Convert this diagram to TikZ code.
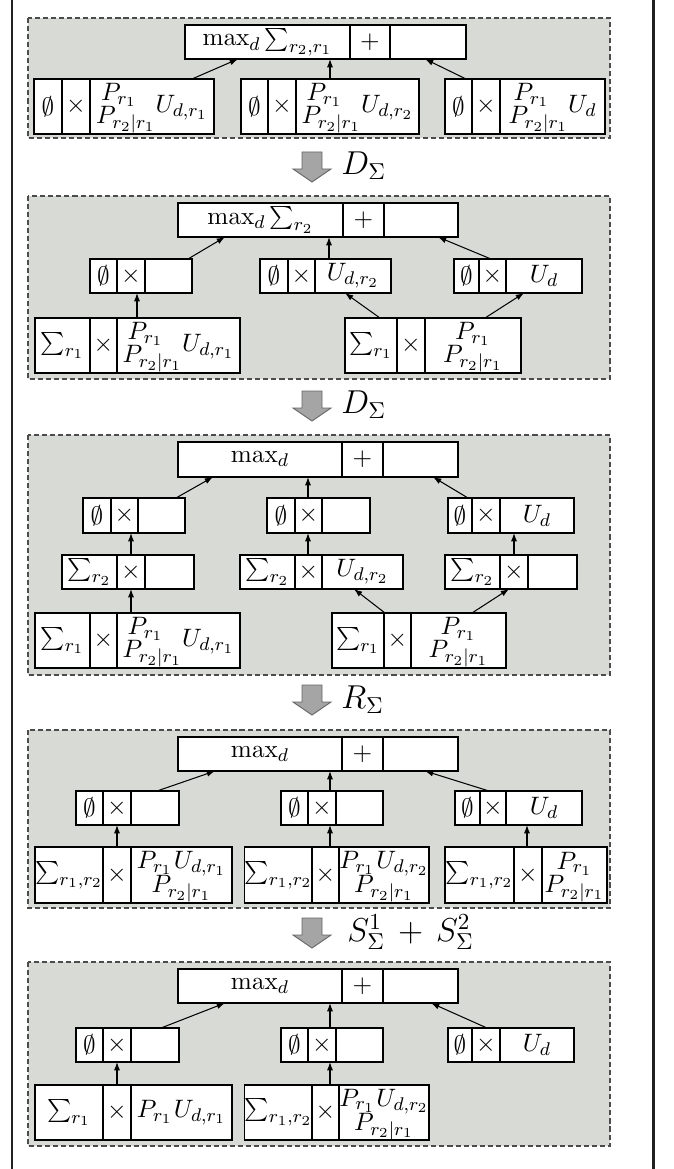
\documentclass[tikz,border=0pt]{standalone}
\usetikzlibrary{arrows.meta,calc}
\DeclareMathSizes{10.95}{10.95}{8}{6}
\definecolor{panelgray}{RGB}{216,218,213}
\definecolor{arrowgray}{RGB}{165,165,165}
\newcommand\rowy[2]{\def\ya{#1}\def\yb{#2}}
\newcommand\tbox[8]{%
  \node[cell,minimum width={(#3-#2)*0.435pt},minimum height={(\yb-\ya)*0.435pt}] (#1a) at ({(#2+#3)/2},{(\ya+\yb)/2}) {#6};
  \node[cell,minimum width={(#4-#3)*0.435pt},minimum height={(\yb-\ya)*0.435pt}] (#1b) at ({(#3+#4)/2},{(\ya+\yb)/2}) {#7};
  \node[cell,minimum width={(#5-#4)*0.435pt},minimum height={(\yb-\ya)*0.435pt}] (#1c) at ({(#4+#5)/2},{(\ya+\yb)/2}) {#8};
}
\newcommand\link[4]{\draw[conn] (#1.north -| #2,0) -- (#3.south -| #4,0);}
\newcommand\barrow[1]{\draw[blockarrow] (302,#1) -- (322,#1) -- (322,#1+17) -- (331,#1+17) -- (312,#1+30) -- (293,#1+17) -- (302,#1+17) -- cycle;}
\newcommand\mPP{\begin{array}{@{}l@{}}\hspace{2.2pt}P_{r_1}\\[-3pt]P_{r_2|r_1}\end{array}}
\newcommand\mPPc{\begin{array}{@{}c@{}}P_{r_1}\\[-3pt]P_{r_2|r_1}\end{array}}
\newcommand\mPU[1]{\begin{array}{@{}c@{}}P_{r_1}\mkern1mu U_{d,#1}\\[-2.5pt]P_{r_2|r_1}\end{array}}
\begin{document}
\begin{tikzpicture}[x=0.435pt,y=-0.435pt,
  cell/.style={draw=black,line width=0.45pt,fill=white,inner sep=0pt,outer sep=0pt,anchor=center,font=\fontsize{10.95}{13}\selectfont},
  conn/.style={-{Latex[length=3.6pt,width=2.6pt]},line width=0.45pt},
  panel/.style={fill=panelgray,draw=black!70,dash pattern=on 2.2pt off 1.3pt,line width=0.5pt},
  blockarrow/.style={fill=arrowgray,draw=black!60,line width=0.4pt},
  frameline/.style={line width=1.1pt,draw=black!87},
  lbl/.style={anchor=west,inner sep=0pt,font=\Large}]
\useasboundingbox (0,0) rectangle (674,1169);
\draw[frameline] (12,0) -- (12,1169);
\draw[frameline] (653.5,0) -- (653.5,1169);
% ---------------- panel 1
\draw[panel] (28,18) rectangle (610,138);
\rowy{25}{59}
\tbox{p1t}{185}{350}{390}{466}{$\max_d\sum_{r_2,r_1}$}{$+$}{}
\rowy{79}{134}
\tbox{p1a}{34}{62}{90}{214}{$\emptyset$}{$\times$}{$\mPP U_{d,r_1}$}
\tbox{p1b}{241}{268}{296}{419}{$\emptyset$}{$\times$}{$\mPP U_{d,r_2}$}
\tbox{p1c}{445}{472}{500}{605}{$\emptyset$}{$\times$}{$\mPP U_d$}
\link{p1ac}{192}{p1ta}{238}
\link{p1bc}{330}{p1ta}{330}
\link{p1ca}{466}{p1tc}{425}
\barrow{152}
\node[lbl] (l1) at (341,166) {$D_\Sigma$};
% ---------------- panel 2
\draw[panel] (28,196) rectangle (610,379);
\rowy{203}{237}
\tbox{p2t}{178}{343}{384}{458}{$\max_d\sum_{r_2}$}{$+$}{}
\rowy{259}{293}
\tbox{p2a}{90}{117}{145}{192}{$\emptyset$}{$\times$}{}
\tbox{p2b}{260}{288}{315}{391}{$\emptyset$}{$\times$}{$U_{d,r_2}$}
\tbox{p2c}{454}{479}{506}{582}{$\emptyset$}{$\times$}{$U_d$}
\rowy{318}{373}
\tbox{p2d}{35}{90}{117}{240}{$\sum_{r_1}$}{$\times$}{$\mPP U_{d,r_1}$}
\tbox{p2e}{345}{397}{425}{521}{$\sum_{r_1}$}{$\times$}{$\mPPc$}
\link{p2ac}{188}{p2ta}{225}
\link{p2bc}{329}{p2ta}{329}
\link{p2cb}{491}{p2tc}{438}
\link{p2dc}{137}{p2ab}{137}
\link{p2ea}{380}{p2bc}{345}
\link{p2ec}{485}{p2cc}{524}
\barrow{391}
\node[lbl] (l2) at (341,405) {$D_\Sigma$};
% ---------------- panel 3
\draw[panel] (28,435) rectangle (610,675);
\rowy{442}{477}
\tbox{p3t}{178}{342}{383}{458}{$\max_d$}{$+$}{}
\rowy{498}{533}
\tbox{p3a}{83}{111}{138}{185}{$\emptyset$}{$\times$}{}
\tbox{p3b}{267}{295}{322}{370}{$\emptyset$}{$\times$}{}
\tbox{p3c}{448}{472}{500}{574}{$\emptyset$}{$\times$}{$U_d$}
\rowy{555}{589}
\tbox{p3e}{62}{117}{145}{194}{$\sum_{r_2}$}{$\times$}{}
\tbox{p3f}{240}{295}{322}{403}{$\sum_{r_2}$}{$\times$}{$U_{d,r_2}$}
\tbox{p3g}{445}{500}{528}{577}{$\sum_{r_2}$}{$\times$}{}
\rowy{613}{668}
\tbox{p3h}{35}{90}{117}{240}{$\sum_{r_1}$}{$\times$}{$\mPP U_{d,r_1}$}
\tbox{p3i}{332}{384}{411}{506}{$\sum_{r_1}$}{$\times$}{$\mPPc$}
\link{p3ac}{176}{p3ta}{213}
\link{p3bb}{308}{p3ta}{308}
\link{p3ca}{468}{p3tc}{433}
\link{p3eb}{131}{p3ab}{131}
\link{p3fb}{308}{p3bb}{308}
\link{p3gb}{514}{p3cc}{514}
\link{p3hc}{131}{p3eb}{131}
\link{p3ib}{385}{p3fc}{354}
\link{p3ic}{472}{p3gb}{509}
\barrow{685}
\node[lbl] (l3) at (341,700) {$R_\Sigma$};
% ---------------- panel 4
\draw[panel] (28,730) rectangle (610,908);
\rowy{737}{771}
\tbox{p4t}{178}{342}{383}{458}{$\max_d$}{$+$}{}
\rowy{791}{825}
\tbox{p4a}{76}{103}{131}{179}{$\emptyset$}{$\times$}{}
\tbox{p4b}{281}{308}{336}{383}{$\emptyset$}{$\times$}{}
\tbox{p4c}{455}{480}{506}{582}{$\emptyset$}{$\times$}{$U_d$}
\rowy{847}{903}
\tbox{p4d}{35}{103}{131}{232}{$\sum_{r_1,r_2}$}{$\times$}{$\mPU{r_1}$}
\tbox{p4e}{245}{312}{339}{429}{$\sum_{r_1,r_2}$}{$\times$}{$\mPU{r_2}$}
\tbox{p4f}{445}{514}{542}{607}{$\sum_{r_1,r_2}$}{$\times$}{$\mPPc$}
\link{p4ac}{157}{p4ta}{215}
\link{p4bb}{330}{p4ta}{330}
\link{p4cb}{489}{p4tc}{425}
\link{p4db}{117}{p4ab}{117}
\link{p4eb}{330}{p4bb}{330}
\link{p4fb}{527}{p4cb}{527}
\barrow{918}
\node[lbl] (l4) at (347,932) {$S^1_\Sigma\,+\,S^2_\Sigma$};
% ---------------- panel 5
\draw[panel] (28,962) rectangle (610,1146);
\rowy{969}{1003}
\tbox{p5t}{178}{342}{383}{458}{$\max_d$}{$+$}{}
\rowy{1028}{1062}
\tbox{p5a}{76}{103}{131}{179}{$\emptyset$}{$\times$}{}
\tbox{p5b}{281}{308}{336}{383}{$\emptyset$}{$\times$}{}
\tbox{p5c}{448}{472}{500}{574}{$\emptyset$}{$\times$}{$U_d$}
\rowy{1085}{1140}
\tbox{p5d}{35}{103}{131}{232}{$\sum_{r_1}$}{$\times$}{$P_{r_1}\mkern1mu U_{d,r_1}$}
\tbox{p5e}{245}{312}{339}{429}{$\sum_{r_1,r_2}$}{$\times$}{$\mPU{r_2}$}
\link{p5ac}{161}{p5ta}{225}
\link{p5bb}{330}{p5ta}{330}
\link{p5cb}{487}{p5tc}{431}
\link{p5db}{117}{p5ab}{117}
\link{p5eb}{330}{p5bb}{330}
\end{tikzpicture}
\end{document}
